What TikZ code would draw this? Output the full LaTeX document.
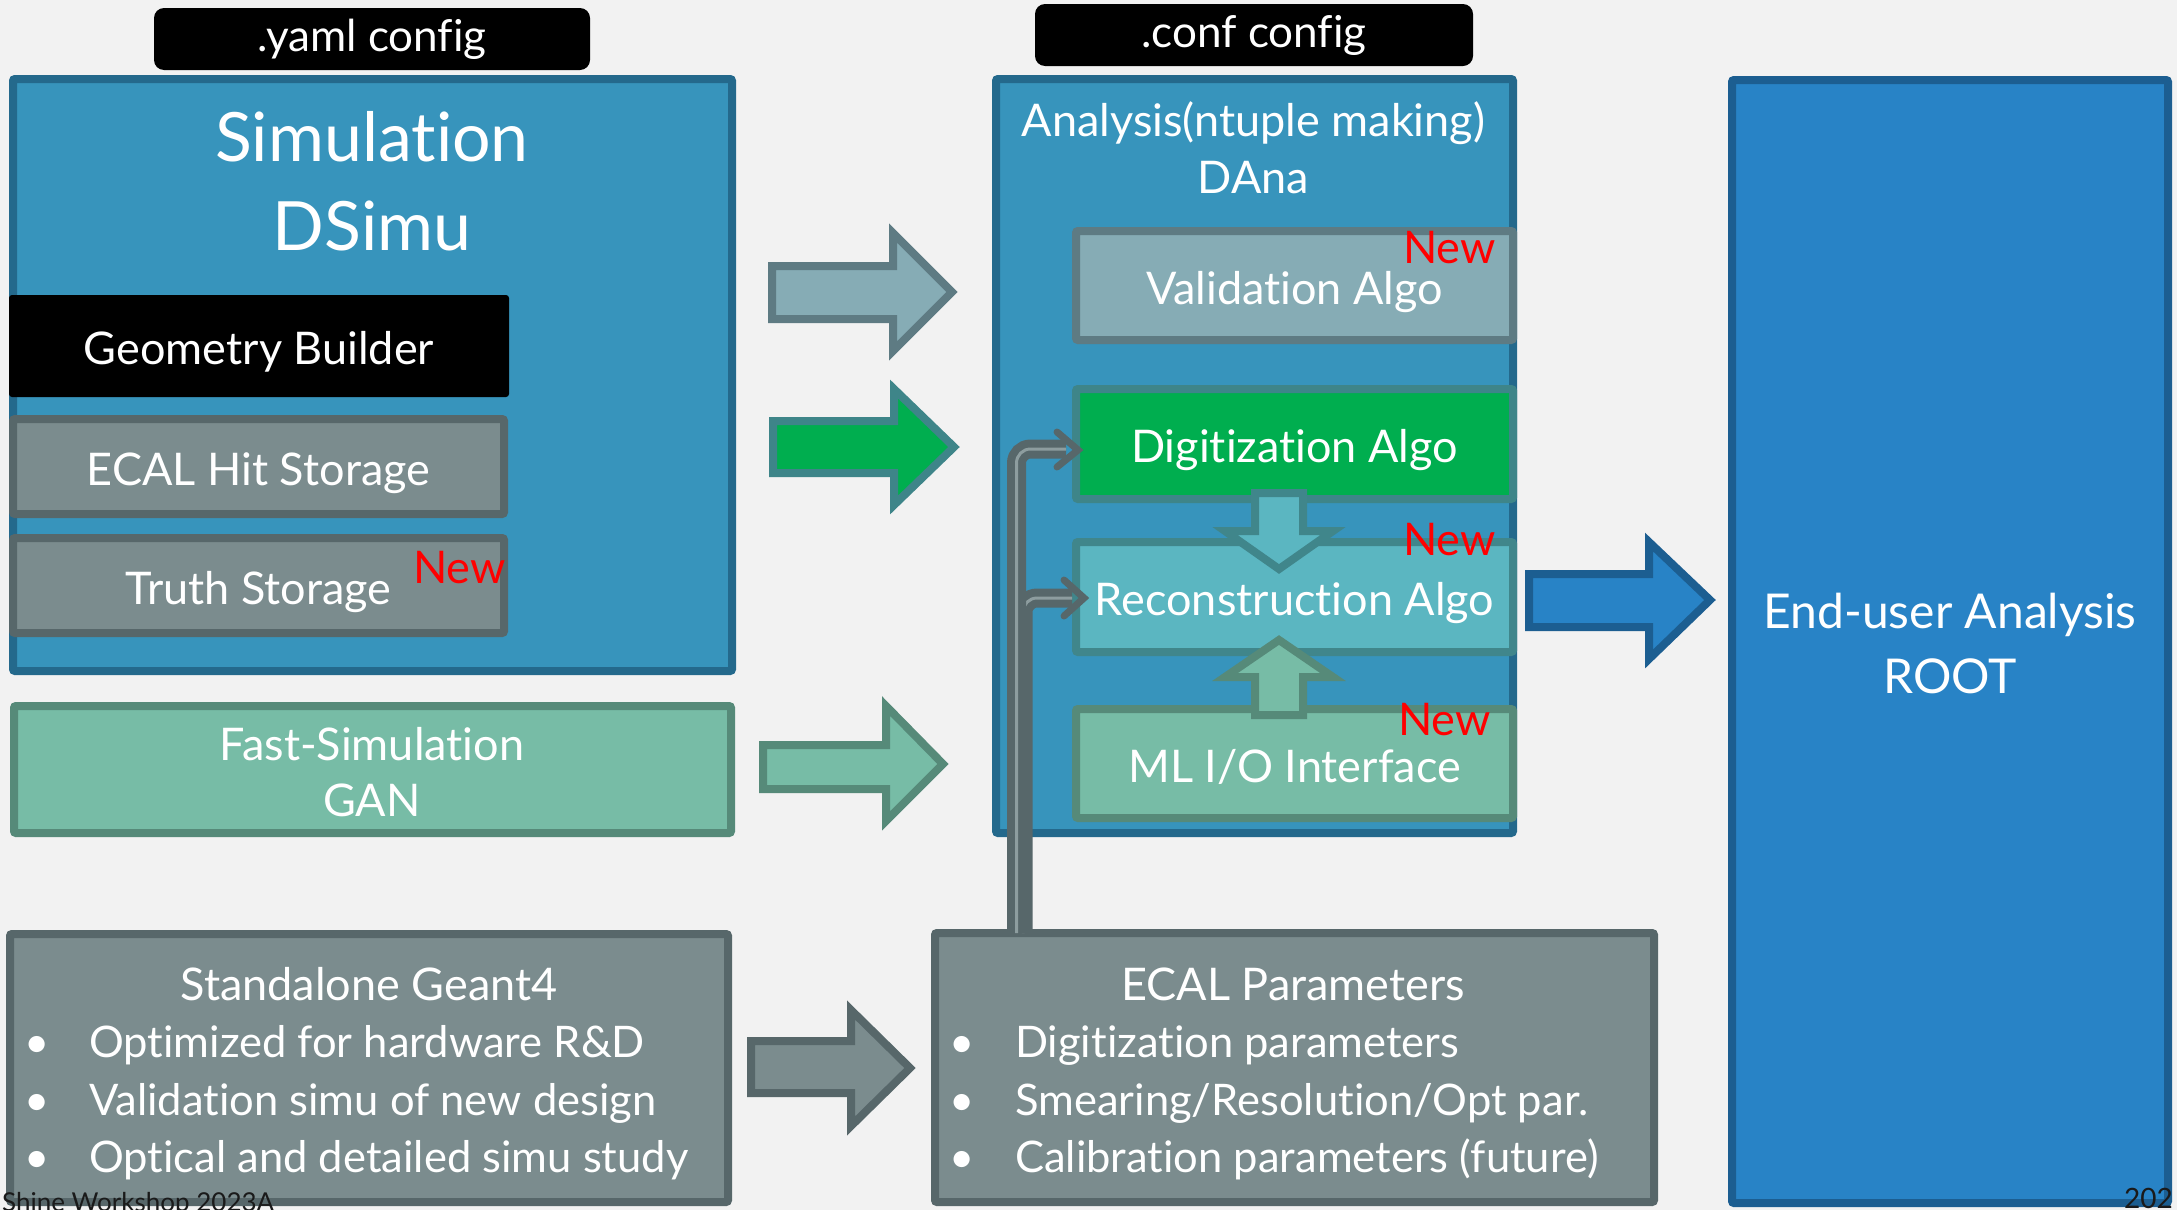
\documentclass[tikz,border=0pt]{standalone}
\usepackage{fontspec}
\setmainfont{Lato}[Ligatures={NoCommon,NoRequired,NoContextual}]
\usetikzlibrary{calc}
\definecolor{bg}{HTML}{F2F2F2}
\definecolor{simfill}{HTML}{3794BC}
\definecolor{simline}{HTML}{24698C}
\definecolor{grayfill}{HTML}{7B8C8E}
\definecolor{grayline}{HTML}{57676A}
\definecolor{valfill}{HTML}{86ACB5}
\definecolor{valline}{HTML}{5E7B83}
\definecolor{digfill}{HTML}{00AE4F}
\definecolor{digline}{HTML}{3E8589}
\definecolor{recfill}{HTML}{5BB6C1}
\definecolor{recline}{HTML}{40868B}
\definecolor{mlfill}{HTML}{77BCA6}
\definecolor{mlline}{HTML}{568A79}
\definecolor{endfill}{HTML}{2883C6}
\definecolor{endline}{HTML}{1C5E91}
\definecolor{newred}{HTML}{FF0000}
\definecolor{connlight}{HTML}{8D9D9F}
\definecolor{foot}{HTML}{1A1A1A}
\begin{document}
\begin{tikzpicture}[x=1pt,y=-1pt,
  box/.style={draw, line width=8pt, outer sep=0pt, inner sep=0pt, rounded corners=2pt},
  boxtxt/.style={text=white, font=\fontsize{45}{50}\selectfont, text height=37pt, text depth=0pt},
  txt/.style={text=white, inner sep=0pt, font=\fontsize{45}{50}\selectfont},
  bultxt/.style={text=white, inner sep=0pt, font=\fontsize{43.5}{50}\selectfont},
  cfgbox/.style={fill=black, draw=none, rounded corners=10pt, outer sep=0pt, inner sep=0pt,
     text=white, font=\fontsize{44}{50}\selectfont, text height=34pt, text depth=9pt},
  newlbl/.style={text=newred, inner sep=0pt, font=\fontsize{45}{50}\selectfont, anchor=base east},
  blockarrow/.style={line width=8pt, line join=miter},
  conn/.style={draw=grayline, line width=8pt, double=connlight, double distance=3pt, rounded corners=14pt},
  chev/.style={draw=grayline, line width=7pt, line cap=round, line join=miter},
  foottxt/.style={text=foot, inner sep=0pt, font=\fontsize{26}{30}\selectfont}
]
\useasboundingbox (0,0) rectangle (2177,1210);
\fill[bg] (0,0) rectangle (2177,1210);

% config labels
\node[cfgbox, minimum width=436, minimum height=62] (yaml) at (372,39) {.yaml config};
\node[cfgbox, minimum width=438, minimum height=62] (conf) at (1254,35) {.conf config};

% simulation panel
\node[box, draw=simline, fill=simfill, minimum width=719, minimum height=592] (sim) at (372.5,375) {};
\node[txt, font=\fontsize{68}{80}\selectfont, anchor=base] (simt1) at (372,161) {Simulation};
\node[txt, font=\fontsize{68}{80}\selectfont, anchor=base] (simt2) at (372,250) {DSimu};
\node[fill=black, draw=none, rounded corners=3pt, outer sep=0pt, inner sep=0pt,
      minimum width=500, minimum height=102, boxtxt] (geo) at (259,346) {Geometry Builder};
\node[box, draw=grayline, fill=grayfill, minimum width=491, minimum height=95, boxtxt] (hit) at (258.5,466.5) {ECAL Hit Storage};
\node[box, draw=grayline, fill=grayfill, minimum width=491, minimum height=95, boxtxt] (truth) at (258.5,585.5) {Truth Storage};
\node[newlbl] (new1) at (506,583) {New};

% fast simulation
\node[box, draw=mlline, fill=mlfill, minimum width=717, minimum height=127] (fast) at (372.5,769.5) {};
\node[txt, anchor=base] (fastt1) at (372,760) {Fast-Simulation};
\node[txt, anchor=base] (fastt2) at (372,816) {GAN};

% standalone geant4
\node[box, draw=grayline, fill=grayfill, minimum width=718, minimum height=268] (g4) at (369,1068) {};
\node[txt, anchor=base] (g4t) at (369,1000) {Standalone Geant4};
\node[bultxt, anchor=base] (g4b1) at (37,1057) {•};
\node[bultxt, anchor=base west] (g4l1) at (89,1057) {Optimized for hardware R\&D};
\node[bultxt, anchor=base] (g4b2) at (37,1115) {•};
\node[bultxt, anchor=base west] (g4l2) at (89,1115) {Validation simu of new design};
\node[bultxt, anchor=base] (g4b3) at (37,1172) {•};
\node[bultxt, anchor=base west] (g4l3) at (89,1172) {Optical and detailed simu study};

% analysis panel
\node[box, draw=simline, fill=simfill, minimum width=517, minimum height=754] (ana) at (1254.5,456) {};
\node[txt, anchor=base] (anat1) at (1253.5,136) {Analysis(ntuple making)};
\node[txt, anchor=base] (anat2) at (1253.5,193) {DAna};
\node[box, draw=valline, fill=valfill, minimum width=437, minimum height=109, boxtxt] (val) at (1294.5,285.5) {Validation Algo};
\node[box, draw=digline, fill=digfill, minimum width=437, minimum height=110, boxtxt] (dig) at (1294.5,444) {Digitization Algo};
\node[box, draw=recline, fill=recfill, minimum width=437, minimum height=110, boxtxt] (rec) at (1294.5,597) {Reconstruction Algo};
\node[box, draw=mlline, fill=mlfill, minimum width=437, minimum height=109, boxtxt] (ml) at (1294.5,763.5) {ML I/O Interface};

% ECAL parameters
\node[box, draw=grayline, fill=grayfill, minimum width=719, minimum height=269] (par) at (1294.5,1067.5) {};
\node[txt, anchor=base] (part) at (1293,1000) {ECAL Parameters};
\node[bultxt, anchor=base] (parb1) at (962,1057) {•};
\node[bultxt, anchor=base west] (parl1) at (1015,1057) {Digitization parameters};
\node[bultxt, anchor=base] (parb2) at (962,1115) {•};
\node[bultxt, anchor=base west] (parl2) at (1015,1115) {Smearing/Resolution/Opt par.};
\node[bultxt, anchor=base] (parb3) at (962,1172) {•};
\node[bultxt, anchor=base west] (parl3) at (1015,1172) {Calibration parameters (future)};

% end-user
\node[box, draw=endline, fill=endfill, minimum width=436, minimum height=1123] (end) at (1950,641.5) {};
\node[txt, font=\fontsize{48}{56}\selectfont, anchor=base] (endt1) at (1950,628) {End-user Analysis};
\node[txt, font=\fontsize{48}{56}\selectfont, anchor=base] (endt2) at (1950,693) {ROOT};

% block arrows
\draw[blockarrow, draw=valline, fill=valfill] (772,266) -- (893,266) -- (893,233) -- (952,292) -- (893,351) -- (893,319) -- (772,319) -- cycle;
\draw[blockarrow, draw=digline, fill=digfill] (773,421) -- (894,421) -- (894,389) -- (954,447) -- (894,505) -- (894,473) -- (773,473) -- cycle;
\draw[blockarrow, draw=mlline, fill=mlfill] (763,745) -- (886,745) -- (886,706) -- (943,764) -- (886,821) -- (886,789) -- (763,789) -- cycle;
\draw[blockarrow, draw=grayline, fill=grayfill] (751,1041) -- (851,1041) -- (851,1010) -- (910,1068) -- (851,1126) -- (851,1093) -- (751,1093) -- cycle;
\draw[blockarrow, draw=endline, fill=endfill] (1529,574) -- (1649,574) -- (1649,542) -- (1710,600) -- (1649,659) -- (1649,627) -- (1529,627) -- cycle;
\draw[blockarrow, draw=recline, fill=recfill] (1255,493) -- (1303,493) -- (1303,531) -- (1333,531) -- (1279,569) -- (1225,531) -- (1255,531) -- cycle;
\draw[blockarrow, draw=mlline, fill=mlfill] (1279,640) -- (1333,677) -- (1303,677) -- (1303,715) -- (1255,715) -- (1255,677) -- (1225,677) -- cycle;

% connectors from ECAL parameters
\coordinate (c1) at (1016.5,933);
\coordinate (c2) at (1023,933);
\draw[conn] (c2) |- ($(rec.west)+(-4,1)$);
\draw[chev] ($(rec.west)+(-12,-17)$) -- ($(rec.west)+(8,1)$) -- ($(rec.west)+(-12,19)$);
\draw[conn] (c1) |- ($(dig.west)+(-10,5)$);
\draw[chev] ($(dig.west)+(-19,-12)$) -- ($(dig.west)+(2,6)$) -- ($(dig.west)+(-19,23)$);

% New labels
\node[newlbl] (new2) at (1496,263) {New};
\node[newlbl] (new3) at (1496,555) {New};
\node[newlbl] (new4) at (1491,735) {New};

% footer
\node[foottxt, anchor=base west] (foot1) at (2,1211) {Shine Workshop 2023A};
\node[foottxt, font=\fontsize{28}{32}\selectfont, anchor=base east] (foot2) at (2173,1208) {202};
\end{tikzpicture}
\end{document}
